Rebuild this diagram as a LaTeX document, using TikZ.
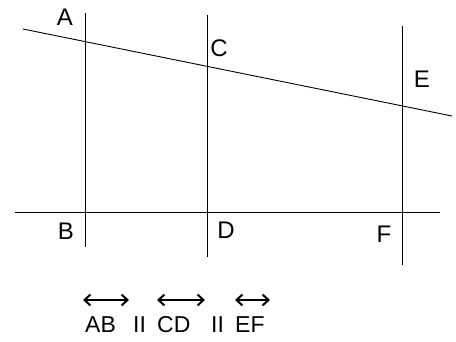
\documentclass[tikz,border=0pt]{standalone}
\usepackage{fontspec}
\setmainfont{Liberation Sans}
\usetikzlibrary{arrows.meta}

\begin{document}
\begin{tikzpicture}[
  x=1pt,
  y=-1pt,
  every node/.style={font=\fontsize{24}{27}\selectfont, inner sep=0pt},
  geoline/.style={line width=0.9pt},
  notation/.style={font=\fontsize{23}{26}\selectfont, anchor=base west},
  overarrow/.style={line width=2pt, {Straight Barb[length=6pt,width=11pt,line width=2pt]}-{Straight Barb[length=6pt,width=11pt,line width=2pt]}}
]
  \useasboundingbox (0,0) rectangle (456,341);

  % transversal and base line
  \coordinate (tL) at (23,29);
  \coordinate (tR) at (452,116);
  \coordinate (bL) at (15,212);
  \coordinate (bR) at (440,212);

  % the three parallels
  \coordinate (a) at (85,13);
  \coordinate (b) at (85,247);
  \coordinate (c) at (207,15);
  \coordinate (d) at (207,257);
  \coordinate (e) at (402,26);
  \coordinate (f) at (402,265);

  \draw[geoline] (tL) -- (tR);
  \draw[geoline] (bL) -- (bR);
  \draw[geoline] (a) -- (b);
  \draw[geoline] (c) -- (d);
  \draw[geoline] (e) -- (f);

  \node (labA) at (65,17) {A};
  \node (labC) at (219,48) {C};
  \node (labE) at (422,79) {E};
  \node (labB) at (66,231) {B};
  \node (labD) at (226,230) {D};
  \node (labF) at (384,234) {F};

  % AB || CD || EF
  \node[notation] (ab) at (85,332) {AB};
  \node[notation] (par1) at (133,332) {II};
  \node[notation] (cd) at (157,332) {CD};
  \node[notation] (par2) at (211,332) {II};
  \node[notation] (ef) at (235,332) {EF};

  \coordinate (abL) at (83,300);
  \coordinate (abR) at (129,300);
  \coordinate (cdL) at (157,300);
  \coordinate (cdR) at (205,300);
  \coordinate (efL) at (235,300);
  \coordinate (efR) at (270,300);

  \draw[overarrow] (abL) -- (abR);
  \draw[overarrow] (cdL) -- (cdR);
  \draw[overarrow] (efL) -- (efR);
\end{tikzpicture}
\end{document}
